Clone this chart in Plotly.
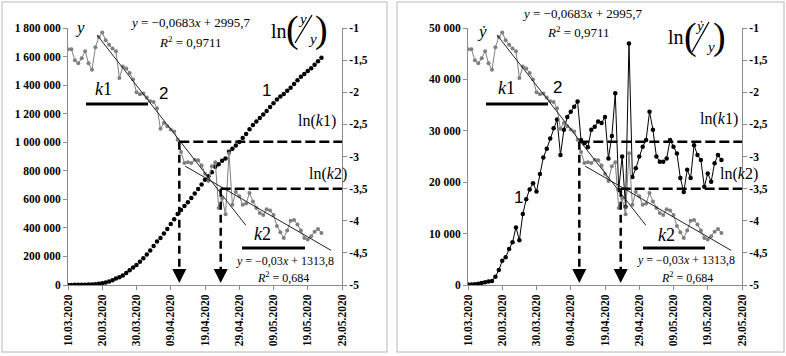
import pandas as pd
import plotly.graph_objects as go

# ---------------- data ----------------
start_date = "2020-03-10"
n_days = 75
dates = pd.date_range(start_date, periods=n_days)

cumulative_cases = [700, 800, 950, 1200, 1600, 2150, 2850, 3650, 5250, 8150,
                    12850, 18250, 25250, 33550, 44750, 53450, 67250, 83950, 102550, 122350,
                    140550, 162150, 186950, 213450, 241950, 272450, 304650, 329950, 360150, 392850,
                    426550, 461250, 496950, 525150, 552750, 579550, 609750, 640550, 672350, 703850,
                    736550, 761150, 790150, 827450, 845950, 870950, 886150, 933150, 954150, 976850,
                    1001850, 1028750, 1056950, 1090650, 1120850, 1145850, 1169850, 1193850, 1218450, 1246650,
                    1273550, 1299150, 1319950, 1338050, 1360450, 1381250, 1408450, 1433750, 1458050, 1477150,
                    1498850, 1518950, 1542650, 1567950, 1592250]

daily_cases = [100, 100, 150, 250, 400, 550, 700, 800, 1600, 2900,
               4700, 5400, 7000, 8300, 11200, 8700, 13800, 16700, 18600, 19800,
               18200, 21600, 24800, 26500, 28500, 30500, 32200, 25300, 30200, 32700,
               33700, 34700, 35700, 28200, 27600, 26800, 30200, 30800, 31800, 31500,
               32700, 24600, 29000, 37300, 18500, 25000, 15200, 47000, 21000, 22700,
               25000, 26900, 28200, 33700, 30200, 25000, 24000, 24000, 24600, 28200,
               26900, 25600, 20800, 18100, 22400, 20800, 27200, 25300, 24300, 19100,
               21700, 20100, 23700, 25300, 24300]

ln_ratio = [-1.33, -1.33, -1.50, -1.55, -1.47, -1.36, -1.55, -1.65, -1.30, -1.14,
            -1.07, -1.19, -1.26, -1.32, -1.36, -1.78, -1.60, -1.63, -1.70, -1.80,
            -2.00, -2.03, -2.02, -2.08, -2.14, -2.15, -2.25, -2.57, -2.48, -2.53,
            -2.58, -2.61, -2.74, -2.93, -3.10, -3.09, -3.10, -3.05, -3.06, -3.14,
            -3.27, -3.38, -3.15, -3.09, -3.80, -3.65, -3.90, -2.95, -3.75, -3.55,
            -3.62, -3.75, -3.73, -3.57, -3.70, -3.80, -3.88, -3.91, -3.82, -3.84,
            -3.91, -4.08, -4.18, -4.27, -4.15, -4.00, -3.99, -4.06, -4.15, -4.27,
            -4.29, -4.24, -4.17, -4.13, -4.19]

trend1_dates = ["2020-03-18 12:00", "2020-04-30 22:00"]
trend1_vals = [-1.11, -4.07]
trend2_dates = ["2020-04-13 05:00", "2020-05-25 19:00"]
trend2_vals = [-3.15, -4.46]

ln_k1 = -2.77
ln_k2 = -3.5
t_k1 = "2020-04-11 12:00"
t_k2 = "2020-04-23 14:00"
x_end = "2020-05-29"

left_ticks = [0, 200000, 400000, 600000, 800000, 1000000, 1200000, 1400000, 1600000, 1800000]
left_ticktext = ["0", "200 000", "400 000", "600 000", "800 000", "1 000 000",
                 "1 200 000", "1 400 000", "1 600 000", "1 800 000"]
right_ticks_daily = [0, 10000, 20000, 30000, 40000, 50000]
right_ticktext_daily = ["0", "10 000", "20 000", "30 000", "40 000", "50 000"]
ln_ticks = [-5, -4.5, -4, -3.5, -3, -2.5, -2, -1.5, -1]
ln_ticktext = ["-5", "-4,5", "-4", "-3,5", "-3", "-2,5", "-2", "-1,5", "-1"]

eq1_text = "<i>y</i> = −0,0683<i>x</i> + 2995,7"
r1_text = "<i>R</i><sup>2</sup> = 0,9711"
eq2_text = "<i>y</i> = −0,03<i>x</i> + 1313,8"
r2_text = "<i>R</i><sup>2</sup> = 0,684"

# ---------------- layout helpers ----------------
W, H = 786, 356
def px(x):
    return x / W
def py(y):
    return 1 - y / H

SERIF = "Liberation Serif"
SANS = "Liberation Sans"
GRAY = "#7f7f7f"
AX = "#8c8c8c"

fig = go.Figure()

# left panel
fig.add_trace(go.Scatter(x=dates, y=ln_ratio, xaxis="x", yaxis="y2", mode="lines+markers",
                         line=dict(color=GRAY, width=1), marker=dict(color=GRAY, size=4)))
for tx, tv in ((trend1_dates, trend1_vals), (trend2_dates, trend2_vals)):
    fig.add_trace(go.Scatter(x=tx, y=tv, xaxis="x", yaxis="y2", mode="lines",
                             line=dict(color="#222", width=1)))
fig.add_trace(go.Scatter(x=dates, y=cumulative_cases, xaxis="x", yaxis="y", mode="markers",
                         marker=dict(color="black", size=4.5)))

# right panel
fig.add_trace(go.Scatter(x=dates, y=ln_ratio, xaxis="x2", yaxis="y4", mode="lines+markers",
                         line=dict(color=GRAY, width=1), marker=dict(color=GRAY, size=4)))
for tx, tv in ((trend1_dates, trend1_vals), (trend2_dates, trend2_vals)):
    fig.add_trace(go.Scatter(x=tx, y=tv, xaxis="x2", yaxis="y4", mode="lines",
                             line=dict(color="#222", width=1)))
fig.add_trace(go.Scatter(x=dates, y=daily_cases, xaxis="x2", yaxis="y3", mode="lines+markers",
                         line=dict(color="black", width=1), marker=dict(color="black", size=4.5)))

tickfont = dict(family=SERIF, size=11.5, color="black", weight="bold")
xcommon = dict(type="date", range=[start_date, x_end], tickmode="linear", tick0=start_date,
               dtick=864000000, tickformat="%d.%m.%Y", tickangle=-90, ticks="outside",
               ticklen=4, tickcolor=AX, showline=True, linecolor=AX, linewidth=1,
               showgrid=False, zeroline=False, tickfont=tickfont, automargin=False)
ydom = [py(285), py(28)]
ycommon = dict(ticks="outside", ticklen=4, tickcolor=AX, showline=True, linecolor=AX,
               linewidth=1, showgrid=False, zeroline=False, tickfont=tickfont, domain=ydom,
               automargin=False)

fig.update_layout(
    width=W, height=H, margin=dict(l=0, r=0, t=0, b=0, autoexpand=False),
    paper_bgcolor="white", plot_bgcolor="rgba(0,0,0,0)", showlegend=False,
    xaxis=dict(domain=[px(68), px(342)], anchor="y", **xcommon),
    xaxis2=dict(domain=[px(468), px(742)], anchor="y3", **xcommon),
    yaxis=dict(anchor="x", range=[0, 1800000], tickmode="array", tickvals=left_ticks,
               ticktext=left_ticktext, **ycommon),
    yaxis2=dict(anchor="x", overlaying="y", side="right", range=[-5, -1], tickmode="array",
                tickvals=ln_ticks, ticktext=ln_ticktext, **ycommon),
    yaxis3=dict(anchor="x2", range=[0, 50000], tickmode="array", tickvals=right_ticks_daily,
                ticktext=right_ticktext_daily, **ycommon),
    yaxis4=dict(anchor="x2", overlaying="y3", side="right", range=[-5, -1], tickmode="array",
                tickvals=ln_ticks, ticktext=ln_ticktext, **ycommon),
)

shapes = []
for x0, x1 in ((2, 387), (397, 784)):
    shapes.append(dict(type="rect", xref="paper", yref="paper", x0=px(x0), x1=px(x1),
                       y0=py(352), y1=py(2), line=dict(color="#cfcfcf", width=1.5)))

dash = "10px,4px"
for xr, yr in (("x", "y2"), ("x2", "y4")):
    for tk, lk in ((t_k1, ln_k1), (t_k2, ln_k2)):
        shapes.append(dict(type="line", xref=xr, yref=yr, x0=tk, x1=x_end, y0=lk, y1=lk,
                           line=dict(color="black", width=2.5, dash=dash)))
        shapes.append(dict(type="line", xref=xr, yref=yr, x0=tk, x1=tk, y0=lk, y1=-4.88,
                           line=dict(color="black", width=2.5, dash="8px,5px")))

def hline(x0, x1, y, w=3):
    return dict(type="line", xref="paper", yref="paper", x0=px(x0), x1=px(x1), y0=py(y), y1=py(y),
                line=dict(color="black", width=w))
def seg(x0, y0, x1, y1, w=1.3):
    return dict(type="line", xref="paper", yref="paper", x0=px(x0), x1=px(x1), y0=py(y0), y1=py(y1),
                line=dict(color="black", width=w))
shapes += [hline(86, 148, 104), hline(242, 305, 248), hline(486, 548, 104), hline(643, 705, 248),
           seg(295, 43, 312, 15), seg(692, 52, 709, 22)]
fig.update_layout(shapes=shapes)

ann = []
def T(x, y, text, size=13, family=SERIF, xanchor="center"):
    ann.append(dict(x=px(x), y=py(y), xref="paper", yref="paper", text=text, showarrow=False,
                    xanchor=xanchor, yanchor="middle", font=dict(family=family, size=size, color="black")))

for xr, yr in (("x", "y"), ("x2", "y3")):
    for tk in (t_k1, t_k2):
        ann.append(dict(x=tk, y=0, xref=xr, yref=yr, ax=0, ay=-14, axref="pixel", ayref="pixel",
                        text="", showarrow=True, arrowhead=2, arrowsize=1.4, arrowwidth=2,
                        arrowcolor="black", yshift=2))

# left panel text
T(80, 28, "<i>y</i>", 17)
T(190, 23, eq1_text, 13)
T(190, 42, r1_text, 13)
T(279, 31, "ln", 20)
T(292, 29, "(", 38)
T(321, 29, ")", 38)
T(302, 19, "<i>y</i>", 15)
T(312, 39, "<i>y</i>", 15)
T(317, 121, "ln(<i>k</i>1)", 16)
T(328, 174, "ln(<i>k</i>2)", 16)
T(104, 89, "<i>k</i>1", 18)
T(163, 93, "2", 17, SANS)
T(266, 90, "1", 17, SANS)
T(262, 234, "<i>k</i>2", 18)
T(285, 261, eq2_text, 12)
T(283, 277, r2_text, 12)

# right panel text
T(482, 31, "<i>ẏ</i>", 17)
T(582, 14, eq1_text, 13)
T(578, 32, r1_text, 13)
T(676, 37, "ln", 20)
T(690, 36, "(", 38)
T(719, 36, ")", 38)
T(699, 26, "<i>ẏ</i>", 15)
T(710, 47, "<i>y</i>", 15)
T(719, 119, "ln(<i>k</i>1)", 16)
T(739, 174, "ln(<i>k</i>2)", 16)
T(506, 88, "<i>k</i>1", 18)
T(557, 87, "2", 17, SANS)
T(518, 197, "1", 17, SANS)
T(666, 235, "<i>k</i>2", 18)
T(686, 260, eq2_text, 12)
T(687, 277, r2_text, 12)

fig.update_layout(annotations=ann)
fig.write_html("out.html", config={"displayModeBar": False},
               post_script="document.body.style.margin='0px';document.body.style.overflow='hidden';")
